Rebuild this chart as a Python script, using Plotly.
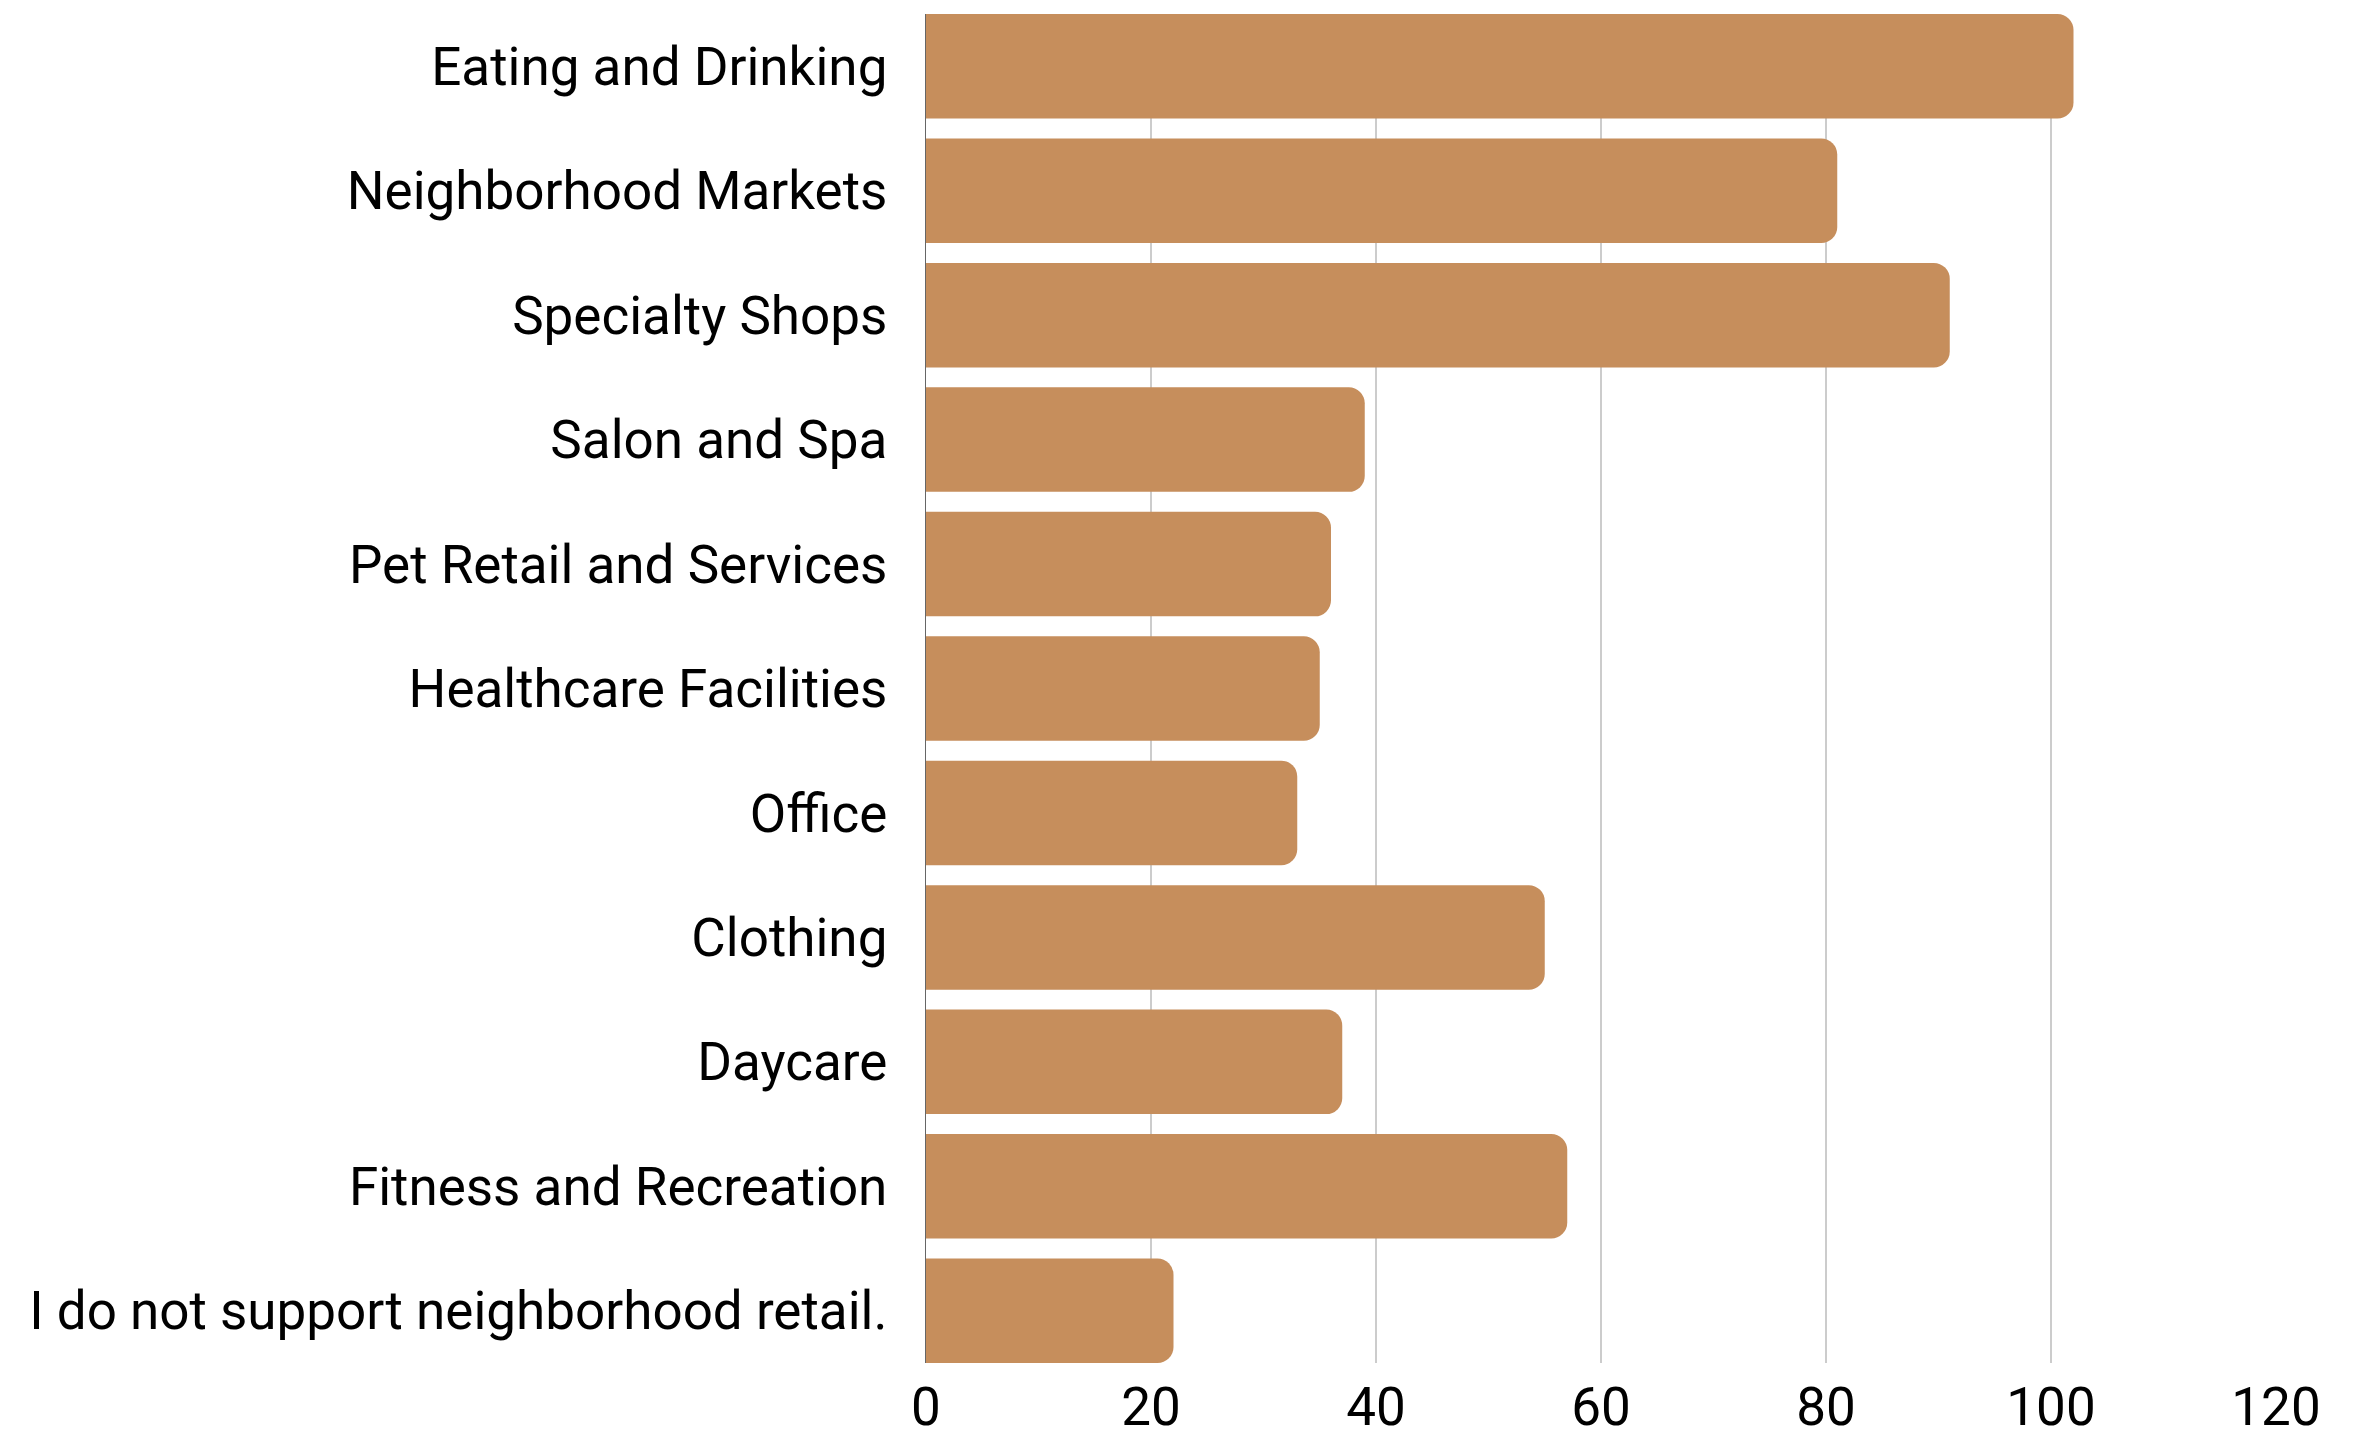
import plotly.graph_objects as go

categories = [
    "Eating and Drinking",
    "Neighborhood Markets",
    "Specialty Shops",
    "Salon and Spa",
    "Pet Retail and Services",
    "Healthcare Facilities",
    "Office",
    "Clothing",
    "Daycare",
    "Fitness and Recreation",
    "I do not support neighborhood retail.",
]
values = [102, 81, 91, 39, 36, 35, 33, 55, 37, 57, 22]
x_ticks = [0, 20, 40, 60, 80, 100, 120]

fig = go.Figure(
    go.Bar(
        x=values,
        y=categories,
        orientation="h",
        marker=dict(color="#C68E5C", cornerradius=16, line=dict(width=0)),
        hoverinfo="x+y",
    )
)

fig.update_layout(
    width=2363,
    height=1433,
    margin=dict(l=926, r=87, t=14, b=70, pad=0),
    paper_bgcolor="white",
    plot_bgcolor="white",
    bargap=0.16,
    showlegend=False,
    font=dict(family="Roboto", size=53, color="#000000"),
)
fig.update_xaxes(
    range=[0, 120],
    tickvals=x_ticks,
    ticktext=[str(t) for t in x_ticks],
    showgrid=True,
    gridcolor="#cccccc",
    gridwidth=1.5,
    zeroline=False,
    showline=False,
    ticks="",
    automargin=False,
    ticklabelstandoff=8,
    tickfont=dict(family="Roboto", size=53, color="#000000"),
)
fig.update_yaxes(
    autorange=False,
    range=[10.42, -0.42],
    showgrid=False,
    zeroline=False,
    showline=True,
    linecolor="#666666",
    linewidth=1,
    ticks="",
    automargin=False,
    ticklabelstandoff=27,
    tickfont=dict(family="Roboto", size=53, color="#000000"),
)

fig.write_html("out.html")
